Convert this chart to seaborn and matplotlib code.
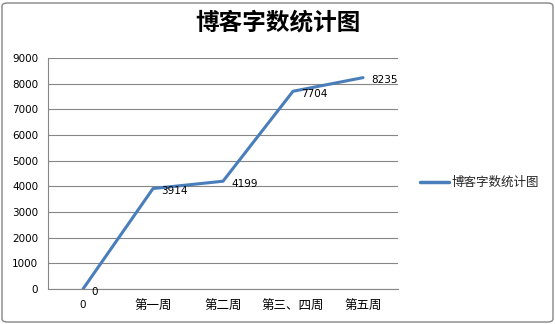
import matplotlib
matplotlib.use("Agg")
import matplotlib.pyplot as plt
import seaborn as sns
import pandas as pd
from matplotlib.patches import FancyBboxPatch

categories = ["0", "第一周", "第二周", "第三、四周", "第五周"]
values = [0, 3914, 4199, 7704, 8235]
series_name = "博客字数统计图"
title = "博客字数统计图"

sns.set_theme(style="white")
plt.rcParams['font.family'] = ['DejaVu Sans', 'Noto Sans CJK SC']
cjk = ['Noto Sans CJK SC', 'DejaVu Sans']

df = pd.DataFrame({"cat": categories, "val": values, "series": series_name})

fig = plt.figure(figsize=(5.55, 3.24), dpi=100)
ax = fig.add_axes([48/555, 1-289/324, 350/555, 231/324])

line_color = "#4a7ebb"
grid_color = "#868686"
sns.lineplot(data=df, x="cat", y="val", hue="series", palette=[line_color],
             linewidth=2.2, ax=ax, sort=False)

ax.set_xlim(-0.5, len(categories) - 0.5)
ax.set_ylim(0, 9000)
ax.set_yticks(range(0, 9001, 1000))
ax.set_xticks([i - 0.5 for i in range(len(categories) + 1)], minor=False)
ax.set_xticklabels([])
ax.set_xticks(range(len(categories)), minor=True)
ax.set_xticklabels(categories, minor=True)
for lbl in ax.get_xticklabels(minor=True):
    lbl.set_family(cjk if lbl.get_text() != "0" else ['DejaVu Sans'])
    lbl.set_fontsize(9 if lbl.get_text() != "0" else 7.5)
ax.tick_params(axis="x", which="major", length=5, color=grid_color, direction="out", width=0.8)
ax.tick_params(axis="x", which="minor", length=0, pad=8, colors="black")
ax.tick_params(axis="y", length=4, color=grid_color, direction="out", width=0.8,
               labelsize=7.5, pad=3, colors="black")
ax.yaxis.grid(True, color=grid_color, linewidth=0.8)
ax.set_axisbelow(True)
for s in ["top", "right"]:
    ax.spines[s].set_visible(False)
for s in ["left", "bottom"]:
    ax.spines[s].set_color(grid_color)
    ax.spines[s].set_linewidth(0.8)
ax.set_xlabel("")
ax.set_ylabel("")

for i, v in enumerate(values):
    ax.annotate(str(v), (i, v), xytext=(6, -2), textcoords="offset points",
                ha="left", va="center", fontsize=7.5, color="black")

leg = ax.legend(loc="center left", bbox_to_anchor=(1.03, 0.46), frameon=False,
                prop={"family": cjk, "size": 9}, handlelength=2.3, handletextpad=0.2)
for h in leg.get_lines():
    h.set_linewidth(2.5)

fig.text(0.5, 1-22/324, title, ha="center", va="center", fontsize=17,
         fontweight="bold", color="black", family=cjk)

border = FancyBboxPatch((2/555, 2/324), 551/555, 319/324, boxstyle="round,pad=0,rounding_size=0.01",
                        transform=fig.transFigure, fill=False, edgecolor="#868686", linewidth=1)
fig.patches.append(border)

fig.savefig("out.png", dpi=100)
